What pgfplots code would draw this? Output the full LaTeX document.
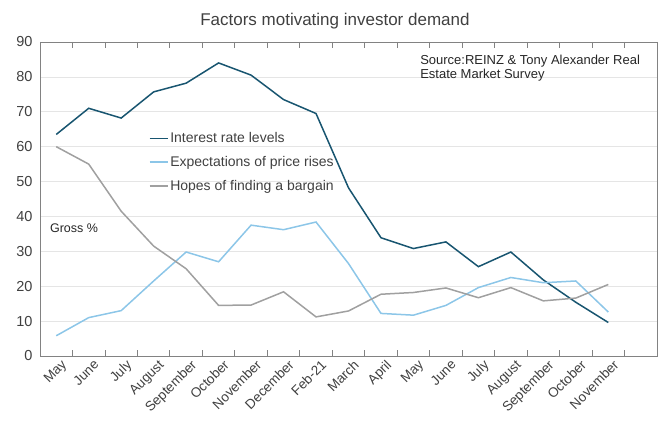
\documentclass[border=0pt]{standalone}
\usepackage{fontspec}
\setmainfont{Liberation Sans}
\usepackage{pgfplots}
\pgfplotsset{compat=1.18}
\definecolor{irl}{RGB}{24,85,112}
\definecolor{epr}{RGB}{140,198,232}
\definecolor{hfb}{RGB}{160,160,160}
\definecolor{axc}{RGB}{130,130,130}
\definecolor{txt}{RGB}{64,64,64}
\begin{document}
\begin{tikzpicture}
\begin{axis}[
  scale only axis,
  width=617pt, height=314pt,
  xmin=-0.5, xmax=18.5,
  ymin=0, ymax=90,
  ytick={0,10,...,90},
  xtick={0,...,17},
  xticklabels={May,June,July,August,September,October,November,December,Feb-21,March,April,May,June,July,August,September,October,November},
  minor xtick={-0.5,0.5,...,18.5},
  major x tick style={draw=none},
  minor x tick style={axc, line width=0.8pt},
  minor tick length=6pt,
  tick align=inside,
  ytick style={draw=none},
  ymajorgrids,
  grid style={line width=0.6pt, gray!20},
  axis line style={axc, line width=0.8pt},
  tick label style={text=txt},
  xticklabel style={font=\fontsize{13.5}{15}\selectfont, rotate=45, anchor=north east, inner sep=1pt, yshift=-4pt, xshift=2pt},
  yticklabel style={font=\fontsize{14.5}{16}\selectfont, xshift=-4pt},
  /pgf/number format/assume math mode=true,
  legend style={at={(rel axis cs:0.176,0.718)}, anchor=north west, draw=none, fill=none,
    font=\fontsize{14}{16}\selectfont, text=txt, row sep=8pt, inner sep=0pt},
  legend cell align=left,
  legend image code/.code={\draw[line width=1.5pt] (0pt,0pt) -- (18pt,0pt);},
  every axis plot/.append style={line width=1.5pt},
  clip=false,
]
\addplot[irl] coordinates {(0,63.5)(1,71)(2,68.2)(3,75.7)(4,78.2)(5,84)(6,80.5)(7,73.5)(8,69.5)(9,48.2)(10,33.9)(11,30.8)(12,32.7)(13,25.6)(14,29.8)(15,21.8)(16,15.4)(17,9.6)};
\addlegendentry{Interest rate levels}
\addplot[epr] coordinates {(0,5.8)(1,11)(2,13)(3,21.5)(4,29.8)(5,27)(6,37.5)(7,36.2)(8,38.4)(9,26.5)(10,12.2)(11,11.7)(12,14.5)(13,19.6)(14,22.5)(15,21)(16,21.5)(17,12.6)};
\addlegendentry{Expectations of price rises}
\addplot[hfb] coordinates {(0,60)(1,55)(2,41.5)(3,31.5)(4,25)(5,14.5)(6,14.6)(7,18.4)(8,11.2)(9,12.9)(10,17.7)(11,18.2)(12,19.5)(13,16.7)(14,19.6)(15,15.8)(16,16.6)(17,20.5)};
\addlegendentry{Hopes of finding a bargain}
\node[anchor=north west, align=left, font=\fontsize{13}{14}\selectfont, inner sep=0pt, text=black!85] at (rel axis cs:0.616,0.96) {Source:REINZ \& Tony Alexander Real\\Estate Market Survey};
\node[anchor=west, font=\fontsize{12.5}{14}\selectfont, inner sep=0pt, text=black!85] at (rel axis cs:0.016,0.408) {Gross \%};
\node[font=\fontsize{17}{19}\selectfont, text=txt] at ([yshift=21pt]rel axis cs:0.478,1) {Factors motivating investor demand};
\end{axis}
\pgfresetboundingbox
\path[use as bounding box] ([shift={(-40pt,-69pt)}]current axis.south west) rectangle ([shift={(7pt,42pt)}]current axis.north east);
\end{tikzpicture}
\end{document}
